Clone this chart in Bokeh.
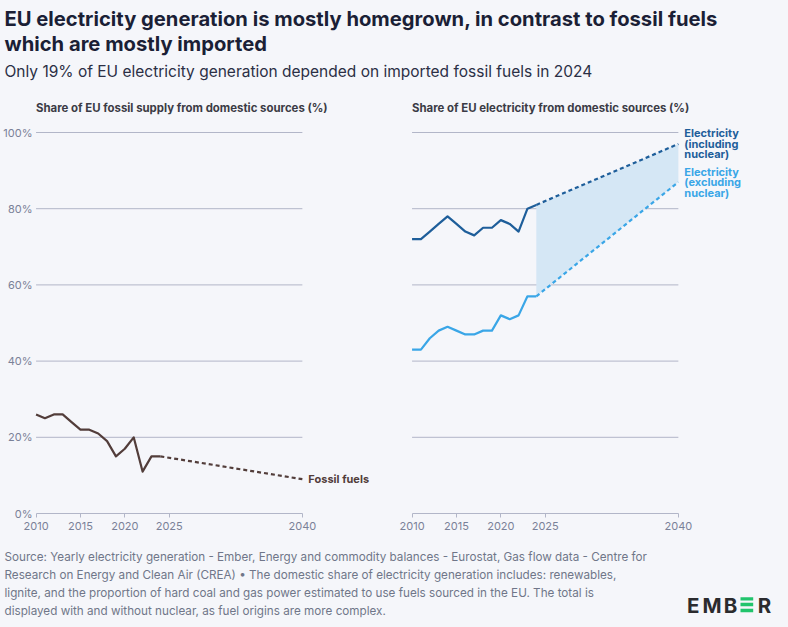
from bokeh.plotting import figure
from bokeh.layouts import column, row
from bokeh.models import Range1d, FixedTicker, PrintfTickFormatter
from bokeh.core.properties import value
from bokeh.embed import file_html
from bokeh.resources import INLINE

# ---------------- data ----------------
years_hist = list(range(2010, 2025))
fossil = [26, 25, 26, 26, 24, 22, 22, 21, 19, 15, 17, 20, 11, 15, 15]
elec_incl = [72, 72, 74, 76, 78, 76, 74, 73, 75, 75, 77, 76, 74, 80, 81]
elec_excl = [43, 43, 46, 48, 49, 48, 47, 47, 48, 48, 52, 51, 52, 57, 57]
proj_years = [2024, 2040]
fossil_proj = [fossil[-1], 9]
incl_proj = [elec_incl[-1], 97]
excl_proj = [elec_excl[-1], 87]
x_ticks = [2010, 2015, 2020, 2025, 2040]
y_ticks = [0, 20, 40, 60, 80, 100]

title_lines = ["EU electricity generation is mostly homegrown, in contrast to fossil fuels",
               "which are mostly imported"]
subtitle = "Only 19% of EU electricity generation depended on imported fossil fuels in 2024"
panel_titles = ["Share of EU fossil supply from domestic sources (%)",
                "Share of EU electricity from domestic sources (%)"]
footer_lines = [
    "Source: Yearly electricity generation - Ember, Energy and commodity balances - Eurostat, Gas flow data - Centre for",
    "Research on Energy and Clean Air (CREA) \u2022 The domestic share of electricity generation includes: renewables,",
    "lignite, and the proportion of hard coal and gas power estimated to use fuels sourced in the EU. The total is",
    "displayed with and without nuclear, as fuel origins are more complex.",
]
logo_letters = ["E", "M", "B", "R"]

# ---------------- styles ----------------
BG = "#f5f6fa"
GRID = "#b2b6c8"
TICK_TXT = "#7a8198"
FONT = "Inter"
C_FOSSIL = "#523d3a"
C_INCL = "#1e5e9a"
C_EXCL = "#3aa6e7"
C_SHADE = "#d5e7f5"
LW = 2.2
DASH = "4 3"


def blank(w, h):
    p = figure(width=w, height=h, x_range=Range1d(0, w), y_range=Range1d(h, 0),
               output_backend="svg", toolbar_location=None, min_border=0)
    p.axis.visible = False
    p.grid.visible = False
    p.outline_line_color = None
    p.background_fill_color = BG
    p.border_fill_color = BG
    return p


def panel(w, left_border, right_border, show_y):
    H = 445
    frame_w = w - left_border - right_border
    x0 = 2009.6
    x1 = x0 + frame_w / 8.877
    p = figure(width=w, height=H, x_range=Range1d(x0, x1), y_range=Range1d(0, 418 / 3.81),
               output_backend="svg", toolbar_location=None,
               min_border_left=left_border, min_border_right=right_border,
               min_border_top=0, min_border_bottom=27)
    p.background_fill_color = BG
    p.border_fill_color = BG
    p.outline_line_color = None
    p.grid.visible = False
    # horizontal grid lines spanning only the axis extent (2010-2040)
    gy = y_ticks[1:]
    p.segment(x0=[x_ticks[0]] * len(gy), x1=[x_ticks[-1]] * len(gy), y0=gy, y1=gy,
              line_color=GRID, line_width=1)
    ax = p.xaxis[0]
    ax.ticker = FixedTicker(ticks=x_ticks)
    ax.bounds = (x_ticks[0], x_ticks[-1])
    ax.axis_line_color = GRID
    ax.major_tick_line_color = GRID
    ax.major_tick_out = 4
    ax.major_tick_in = 0
    ax.minor_tick_line_color = None
    ax.minor_tick_out = 0
    ax.major_label_text_font = FONT
    ax.major_label_text_font_size = "11px"
    ax.major_label_text_color = TICK_TXT
    ax.major_label_standoff = 4
    ya = p.yaxis[0]
    if show_y:
        ya.ticker = FixedTicker(ticks=y_ticks)
        ya.formatter = PrintfTickFormatter(format="%d%%")
        ya.axis_line_color = None
        ya.major_tick_line_color = None
        ya.minor_tick_line_color = None
        ya.major_tick_out = 0
        ya.major_tick_in = 0
        ya.minor_tick_out = 0
        ya.minor_tick_in = 0
        ya.major_label_text_font = FONT
        ya.major_label_text_font_size = "11px"
        ya.major_label_text_color = TICK_TXT
        ya.major_label_standoff = 0
    else:
        ya.visible = False
    return p


def txt(p, x, y, s, size, color, bold=False, **kw):
    p.text(x=[x], y=[y], text=[s], text_font=value(FONT),
           text_font_style="bold" if bold else "normal",
           text_font_size=size, text_color=color, text_baseline="middle", **kw)


# ---------------- header ----------------
head = blank(788, 95)
txt(head, 4, 18, title_lines[0], "20.2px", "#1b1f36", bold=True)
txt(head, 4, 42.5, title_lines[1], "20.2px", "#1b1f36", bold=True)
txt(head, 4, 71, subtitle, "15.5px", "#2b2f45")

# ---------------- left panel ----------------
left = panel(388, 32, 6, True)
left.line(proj_years, fossil_proj, line_color=C_FOSSIL, line_width=LW, line_dash=DASH)
left.line(years_hist, fossil, line_color=C_FOSSIL, line_width=LW, line_join="round")
txt(left, 2010, 106.56, panel_titles[0], "11.4px", "#3b3b45", bold=True)
txt(left, proj_years[-1], fossil_proj[-1], "Fossil fuels", "11px", C_FOSSIL, bold=True, x_offset=6)

# ---------------- right panel ----------------
right = panel(400, 20, 26, False)
right.varea(x=proj_years, y1=excl_proj, y2=incl_proj, fill_color=C_SHADE)
right.line(proj_years, incl_proj, line_color=C_INCL, line_width=LW, line_dash=DASH)
right.line(proj_years, excl_proj, line_color=C_EXCL, line_width=LW, line_dash=DASH)
right.line(years_hist, elec_incl, line_color=C_INCL, line_width=LW, line_join="round")
right.line(years_hist, elec_excl, line_color=C_EXCL, line_width=LW, line_join="round")
txt(right, 2010, 106.56, panel_titles[1], "11.4px", "#3b3b45", bold=True)
for lines, yv, col in ((["Electricity", "(including", "nuclear)"], incl_proj[-1], C_INCL),
                       (["Electricity", "(excluding", "nuclear)"], excl_proj[-1], C_EXCL)):
    for i, t in enumerate(lines):
        txt(right, proj_years[-1], yv, t, "11px", col, bold=True, x_offset=6, y_offset=(i - 1) * 10.5)

# ---------------- footer ----------------
foot = blank(788, 86)
for i, t in enumerate(footer_lines):
    txt(foot, 4, 16.5 + 18 * i, t, "11.7px", "#707689")
for ch, xl in zip(logo_letters, [686.5, 702, 723.3, 757.3]):
    txt(foot, xl, 64.7, ch, "20.5px", "#2b2b2e", bold=True)
foot.quad(left=[740, 740, 740], right=[752.7, 752.7, 752.7], top=[56.7, 62.3, 68.3],
          bottom=[60, 65.7, 71.7], fill_color="#21c46c", line_color=None)

layout = column(head, row(left, right), foot)

html = file_html(layout, INLINE, title="EU electricity")
html = html.replace("<head>", "<head><style>html,body{margin:0;padding:0;background:#f5f6fa;overflow:hidden;}</style>", 1)
open("out.html", "w").write(html)
